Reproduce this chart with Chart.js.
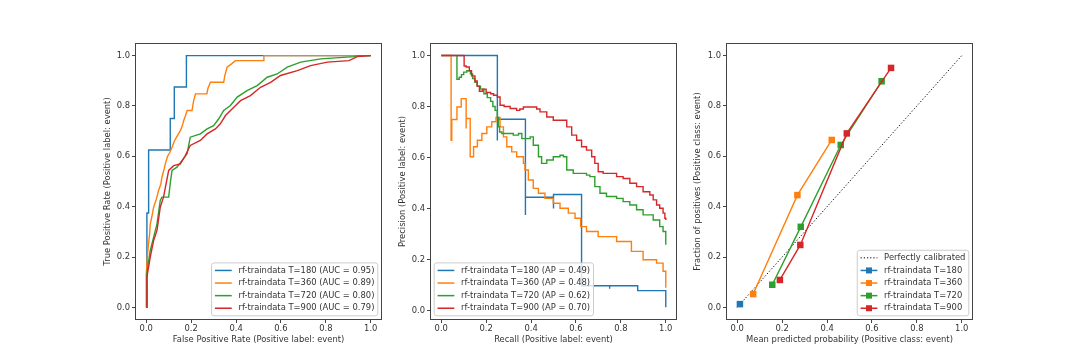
<!DOCTYPE html>
<html>
<head>
<meta charset="utf-8">
<script src="https://cdn.jsdelivr.net/npm/chart.js@4.4.1/dist/chart.umd.min.js"></script>
<style>
  html, body { margin: 0; padding: 0; background: #ffffff; }
  #wrap { position: relative; width: 1080px; height: 359px; background: #ffffff; overflow: hidden; }
  canvas { position: absolute; top: 0; }
</style>
</head>
<body>
<div id="wrap">
  <canvas id="c1" width="307" height="359" style="left:90px"></canvas>
  <canvas id="c2" width="307" height="359" style="left:385px"></canvas>
  <canvas id="c3" width="307" height="359" style="left:681px"></canvas>
</div>
<script>
// ---------------- DATA ----------------
const tickValues = [0, 0.2, 0.4, 0.6, 0.8, 1.0];
const seriesNames = ['rf-traindata T=180', 'rf-traindata T=360', 'rf-traindata T=720', 'rf-traindata T=900'];
const seriesColors = ['#1f77b4', '#ff7f0e', '#2ca02c', '#d62728'];
const aucValues = ['0.95', '0.89', '0.80', '0.79'];
const apValues = ['0.49', '0.48', '0.62', '0.70'];

// ROC curves [FPR, TPR]
const roc180 = [[0,0],[0.003,0],[0.003,0.375],[0.008,0.375],[0.008,0.5],[0.012,0.5],[0.012,0.625],[0.107,0.625],[0.107,0.75],[0.125,0.75],[0.125,0.875],[0.179,0.875],[0.179,1.0],[1,1]];
const roc360 = [[0,0],[0,0.13],[0.005,0.2],[0.01,0.253],[0.015,0.29],[0.018,0.332],[0.025,0.36],[0.033,0.398],[0.045,0.43],[0.055,0.464],[0.065,0.49],[0.07,0.517],[0.08,0.55],[0.085,0.57],[0.095,0.6],[0.105,0.615],[0.115,0.636],[0.125,0.66],[0.135,0.676],[0.152,0.702],[0.16,0.72],[0.167,0.742],[0.175,0.762],[0.182,0.782],[0.204,0.782],[0.21,0.815],[0.219,0.848],[0.27,0.848],[0.275,0.87],[0.286,0.894],[0.345,0.894],[0.35,0.92],[0.36,0.954],[0.38,0.967],[0.397,0.98],[0.524,0.98],[0.524,1.0],[1,1]];
const roc720 = [[0,0],[0.003,0.134],[0.01,0.18],[0.018,0.226],[0.033,0.279],[0.048,0.332],[0.0625,0.425],[0.07,0.438],[0.10,0.438],[0.108,0.5],[0.115,0.544],[0.137,0.557],[0.159,0.583],[0.182,0.61],[0.196,0.676],[0.241,0.689],[0.271,0.709],[0.30,0.722],[0.323,0.749],[0.345,0.782],[0.375,0.802],[0.405,0.835],[0.449,0.861],[0.494,0.881],[0.539,0.914],[0.583,0.927],[0.628,0.954],[0.688,0.974],[0.777,0.987],[0.926,0.996],[0.94,1.0],[1,1]];
const roc900 = [[0,0],[0.003,0.12],[0.018,0.2],[0.033,0.266],[0.048,0.306],[0.0625,0.398],[0.077,0.438],[0.10,0.544],[0.122,0.563],[0.152,0.57],[0.174,0.603],[0.196,0.643],[0.241,0.663],[0.271,0.689],[0.308,0.709],[0.33,0.729],[0.353,0.762],[0.39,0.795],[0.42,0.821],[0.464,0.841],[0.509,0.874],[0.554,0.894],[0.598,0.921],[0.673,0.94],[0.732,0.96],[0.807,0.974],[0.903,0.98],[0.94,0.996],[1,1]];

// Precision-recall curves [Recall, Precision] (drawn as steps)
const pr180 = [[0,1],[0.25,0.667],[0.25,0.75],[0.375,0.375],[0.375,0.444],[0.5,0.4],[0.5,0.455],[0.625,0.097],[0.75,0.086],[0.75,0.097],[0.875,0.078],[1,0.0125]];
const pr360 = [[0,1],[0.044,0.668],[0.047,0.749],[0.07,0.798],[0.089,0.831],[0.111,0.714],[0.111,0.753],[0.129,0.603],[0.144,0.642],[0.161,0.668],[0.181,0.694],[0.203,0.72],[0.225,0.74],[0.244,0.757],[0.262,0.72],[0.277,0.681],[0.292,0.642],[0.314,0.622],[0.336,0.603],[0.366,0.577],[0.373,0.551],[0.388,0.512],[0.41,0.479],[0.433,0.46],[0.462,0.44],[0.499,0.421],[0.529,0.401],[0.566,0.382],[0.596,0.362],[0.621,0.329],[0.647,0.31],[0.699,0.29],[0.781,0.271],[0.847,0.232],[0.899,0.199],[0.959,0.186],[0.988,0.154],[1,0.089]];
const pr720 = [[0.07,1.0],[0.07,0.907],[0.08,0.915],[0.09,0.925],[0.1,0.935],[0.114,0.94],[0.13,0.928],[0.14,0.91],[0.15,0.895],[0.16,0.88],[0.175,0.868],[0.19,0.85],[0.205,0.835],[0.22,0.82],[0.23,0.8],[0.24,0.785],[0.25,0.757],[0.255,0.72],[0.26,0.70],[0.27,0.694],[0.292,0.694],[0.321,0.688],[0.344,0.694],[0.359,0.674],[0.396,0.681],[0.41,0.648],[0.433,0.603],[0.447,0.577],[0.47,0.59],[0.499,0.603],[0.529,0.609],[0.544,0.603],[0.559,0.551],[0.588,0.538],[0.647,0.531],[0.662,0.525],[0.684,0.486],[0.707,0.46],[0.736,0.447],[0.781,0.44],[0.81,0.427],[0.84,0.414],[0.87,0.395],[0.899,0.375],[0.944,0.355],[0.973,0.329],[0.988,0.31],[1,0.258]];
const pr900 = [[0,1],[0.102,0.959],[0.111,0.955],[0.125,0.94],[0.135,0.92],[0.15,0.9],[0.16,0.88],[0.17,0.86],[0.185,0.868],[0.2,0.855],[0.22,0.85],[0.233,0.844],[0.25,0.837],[0.262,0.805],[0.28,0.8],[0.307,0.792],[0.336,0.785],[0.35,0.79],[0.366,0.798],[0.41,0.798],[0.425,0.79],[0.44,0.779],[0.47,0.759],[0.499,0.746],[0.529,0.746],[0.559,0.72],[0.581,0.688],[0.603,0.668],[0.625,0.642],[0.647,0.629],[0.67,0.603],[0.684,0.577],[0.699,0.544],[0.721,0.538],[0.751,0.538],[0.781,0.525],[0.81,0.518],[0.84,0.499],[0.87,0.486],[0.899,0.466],[0.929,0.453],[0.944,0.434],[0.959,0.414],[0.973,0.401],[0.988,0.382],[0.996,0.362],[1,0.355]];

// Calibration curves [mean predicted probability, fraction of positives]
const calDiagonal = [[0,0],[1,1]];
const cal180 = [[0.012,0.013]];
const cal360 = [[0.071,0.053],[0.268,0.446],[0.421,0.665]];
const cal720 = [[0.156,0.09],[0.283,0.32],[0.461,0.645],[0.643,0.898]];
const cal900 = [[0.19,0.109],[0.281,0.248],[0.488,0.691],[0.685,0.951]];

// ---------------- STYLE / HELPERS ----------------
const FONT_FAMILY = '"DejaVu Sans", sans-serif';
const FS = 8.4;
const TEXT_COLOR = '#333333';
const SPINE_COLOR = '#444444';

const toXY = arr => arr.map(p => ({x: p[0], y: p[1]}));

const framePlugin = {
  id: 'frame',
  afterDatasetsDraw(chart) {
    const {ctx, chartArea: a} = chart;
    ctx.save();
    ctx.strokeStyle = SPINE_COLOR;
    ctx.lineWidth = 1;
    ctx.strokeRect(Math.round(a.left) + 0.5, Math.round(a.top) + 0.5, Math.round(a.right - a.left) - 1, Math.round(a.bottom - a.top) - 1);
    ctx.restore();
  }
};

const mplLegendPlugin = {
  id: 'mplLegend',
  afterDraw(chart, args, opts) {
    if (!opts || !opts.items) return;
    const {ctx, chartArea: a} = chart;
    const fs = FS;
    ctx.save();
    ctx.font = fs + 'px ' + FONT_FAMILY;
    const items = opts.items;
    const pad = 0.4 * fs, hl = 2 * fs, htp = 0.8 * fs, ls = 0.5 * fs, bap = 0.5 * fs;
    const tw = Math.max(...items.map(it => ctx.measureText(it.label).width));
    const w = pad * 2 + hl + htp + tw;
    const h = pad * 2 + items.length * fs + (items.length - 1) * ls;
    const x0 = opts.align === 'left' ? a.left + bap : a.right - bap - w;
    const y0 = a.bottom - bap - h;
    const r = 2.5;
    ctx.beginPath();
    ctx.moveTo(x0 + r, y0);
    ctx.lineTo(x0 + w - r, y0);
    ctx.arcTo(x0 + w, y0, x0 + w, y0 + r, r);
    ctx.lineTo(x0 + w, y0 + h - r);
    ctx.arcTo(x0 + w, y0 + h, x0 + w - r, y0 + h, r);
    ctx.lineTo(x0 + r, y0 + h);
    ctx.arcTo(x0, y0 + h, x0, y0 + h - r, r);
    ctx.lineTo(x0, y0 + r);
    ctx.arcTo(x0, y0, x0 + r, y0, r);
    ctx.closePath();
    ctx.fillStyle = 'rgba(255,255,255,0.8)';
    ctx.fill();
    ctx.strokeStyle = '#cccccc';
    ctx.lineWidth = 1;
    ctx.stroke();
    items.forEach((it, i) => {
      const cy = y0 + pad + i * (fs + ls) + fs / 2;
      const hx = x0 + pad;
      ctx.save();
      ctx.strokeStyle = it.color;
      ctx.lineWidth = it.width || 1.5;
      ctx.setLineDash(it.dash || []);
      ctx.beginPath();
      ctx.moveTo(hx, cy);
      ctx.lineTo(hx + hl, cy);
      ctx.stroke();
      ctx.restore();
      if (it.marker) {
        ctx.fillStyle = it.color;
        ctx.fillRect(hx + hl / 2 - 3, cy - 3, 6, 6);
      }
      ctx.fillStyle = TEXT_COLOR;
      ctx.textBaseline = 'middle';
      ctx.textAlign = 'left';
      ctx.fillText(it.label, hx + hl + htp, cy);
    });
    ctx.restore();
  }
};

function axisCfg(min, max, title, isY, titlePad) {
  return {
    type: 'linear',
    min: min,
    max: max,
    afterBuildTicks: s => { s.ticks = tickValues.map(v => ({value: v})); },
    afterFit: s => { if (isY) s.width = 45; else s.height = 39; },
    grid: { drawOnChartArea: false, drawTicks: true, tickLength: 3, color: SPINE_COLOR, lineWidth: 1 },
    border: { display: false },
    ticks: {
      padding: isY ? 2 : 1,
      color: TEXT_COLOR,
      font: { family: FONT_FAMILY, size: FS },
      callback: v => Number(v).toFixed(1),
      maxRotation: 0,
      autoSkip: false
    },
    title: {
      display: true,
      text: title,
      color: TEXT_COLOR,
      font: { family: FONT_FAMILY, size: FS },
      padding: isY ? { top: titlePad, bottom: 0 } : { top: 0, bottom: titlePad }
    }
  };
}

function makeChart(id, datasets, yMin, yMax, xTitle, yTitle, yTitlePad, legendCfg) {
  return new Chart(document.getElementById(id), {
    type: 'line',
    data: { datasets: datasets },
    options: {
      responsive: false,
      animation: false,
      devicePixelRatio: 1,
      layout: { padding: { top: 43, right: 15, bottom: 0, left: 0 } },
      plugins: {
        legend: { display: false },
        tooltip: { enabled: false },
        mplLegend: legendCfg
      },
      scales: {
        x: axisCfg(-0.05, 1.05, xTitle, false, 14),
        y: axisCfg(yMin, yMax, yTitle, true, yTitlePad)
      }
    },
    plugins: [framePlugin, mplLegendPlugin]
  });
}

function lineDs(label, arr, color, idx, stepped) {
  return {
    label: label,
    data: toXY(arr),
    borderColor: color,
    backgroundColor: color,
    borderWidth: 1.4,
    pointRadius: 0,
    fill: false,
    tension: 0,
    stepped: stepped ? true : false,
    order: 10 - idx
  };
}

// ---------------- PANEL 1: ROC ----------------
const rocSeries = [roc180, roc360, roc720, roc900];
makeChart('c1',
  rocSeries.map((s, i) => lineDs(seriesNames[i], s, seriesColors[i], i, false)),
  -0.05, 1.05,
  'False Positive Rate (Positive label: event)',
  'True Positive Rate (Positive label: event)', 13,
  { align: 'right', items: seriesNames.map((n, i) => ({ label: n + ' (AUC = ' + aucValues[i] + ')', color: seriesColors[i] })) }
);

// ---------------- PANEL 2: PR ----------------
const prSeries = [pr180, pr360, pr720, pr900];
makeChart('c2',
  prSeries.map((s, i) => lineDs(seriesNames[i], s, seriesColors[i], i, true)),
  -0.037, 1.049,
  'Recall (Positive label: event)',
  'Precision (Positive label: event)', 13,
  { align: 'left', items: seriesNames.map((n, i) => ({ label: n + ' (AP = ' + apValues[i] + ')', color: seriesColors[i] })) }
);

// ---------------- PANEL 3: Calibration ----------------
const calSeries = [cal180, cal360, cal720, cal900];
const calDatasets = [{
  label: 'Perfectly calibrated',
  data: toXY(calDiagonal),
  borderColor: '#000000',
  borderWidth: 1,
  borderDash: [1.2, 2],
  pointRadius: 0,
  fill: false,
  order: 20
}].concat(calSeries.map((s, i) => Object.assign(lineDs(seriesNames[i], s, seriesColors[i], i, false), {
  pointStyle: 'rect',
  pointRadius: 4.6,
  pointBorderWidth: 0,
  pointBackgroundColor: seriesColors[i]
})));
makeChart('c3',
  calDatasets,
  -0.05, 1.05,
  'Mean predicted probability (Positive class: event)',
  'Fraction of positives (Positive class: event)', 12,
  { align: 'right', items: [{ label: 'Perfectly calibrated', color: '#000000', dash: [1.2, 2], width: 1 }]
      .concat(seriesNames.map((n, i) => ({ label: n, color: seriesColors[i], marker: true }))) }
);
</script>
</body>
</html>
